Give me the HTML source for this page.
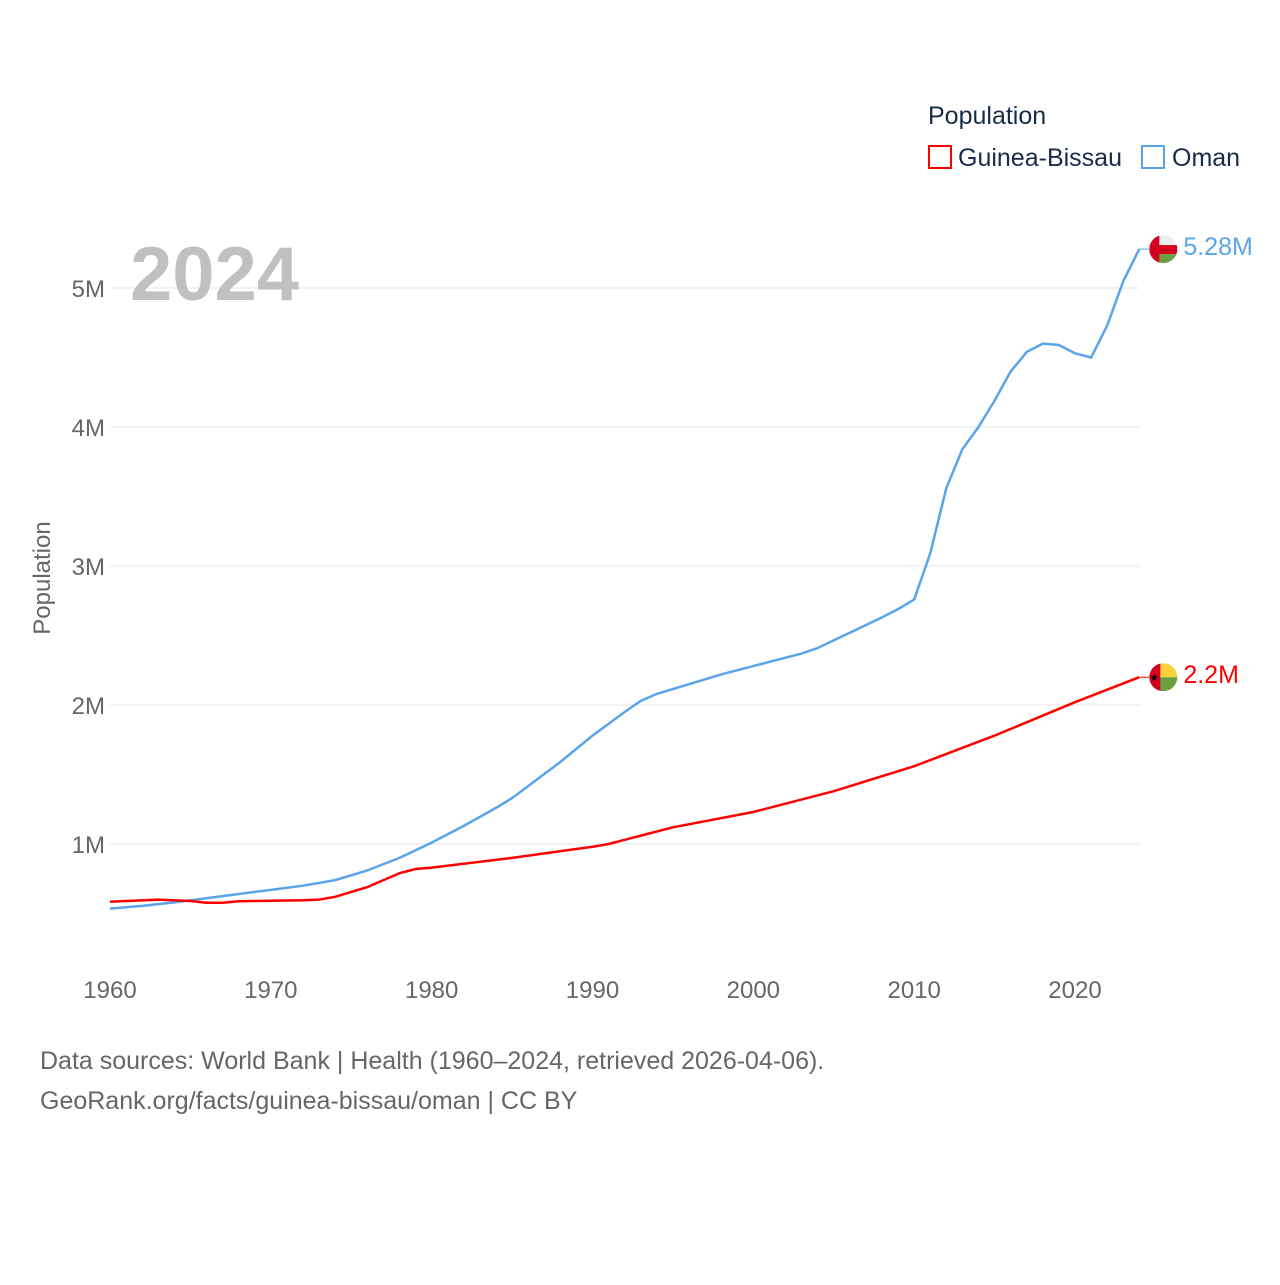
<!DOCTYPE html>
<html><head><meta charset="utf-8"><style>
body{margin:0;background:#fff;font-family:"Liberation Sans",sans-serif;}
svg text{font-family:"Liberation Sans",sans-serif;}
</style></head><body>
<svg id="chart" width="1280" height="1280" viewBox="0 0 1280 1280" xmlns="http://www.w3.org/2000/svg">
<rect width="1280" height="1280" fill="#fff"/>
<g id="grid"></g>
<text x="130" y="300" font-size="76" font-weight="bold" fill="#c0c0c0">2024</text>
<text transform="translate(50,578) rotate(-90)" text-anchor="middle" font-size="24" fill="#666">Population</text>
<g id="series"></g>
<g>
<text x="928" y="124" font-size="25" fill="#1a2b4a">Population</text>
<rect x="929" y="146" width="22" height="22" fill="none" stroke="#f00" stroke-width="2"/>
<text x="958" y="166" font-size="25" fill="#1a2b4a">Guinea-Bissau</text>
<rect x="1142" y="146" width="22" height="22" fill="none" stroke="#5aa5ea" stroke-width="2"/>
<text x="1172" y="166" font-size="25" fill="#1a2b4a">Oman</text>
</g>
<text x="40" y="1069" font-size="25" fill="#666">Data sources: World Bank | Health (1960–2024, retrieved 2026-04-06).</text>
<text x="40" y="1109" font-size="25" fill="#666">GeoRank.org/facts/guinea-bissau/oman | CC BY</text>
</svg>
<script>
const omanYears=[1960,1962,1964,1966,1968,1970,1972,1974,1976,1978,1980,1982,1984,1985,1988,1990,1992,1993,1994,1996,1998,2000,2003,2004,2006,2008,2009,2010,2011,2012,2013,2014,2015,2016,2017,2018,2019,2020,2021,2022,2023,2024];
const omanValues=[0.535,0.555,0.58,0.61,0.64,0.67,0.70,0.74,0.81,0.90,1.01,1.13,1.26,1.33,1.59,1.78,1.95,2.03,2.08,2.15,2.22,2.28,2.37,2.41,2.52,2.63,2.69,2.76,3.09,3.56,3.84,4.00,4.19,4.40,4.54,4.60,4.59,4.53,4.50,4.73,5.05,5.28];
const gbYears=[1960,1963,1965,1966,1967,1968,1970,1972,1973,1974,1976,1978,1979,1980,1985,1990,1991,1994,1995,2000,2005,2010,2015,2020,2024];
const gbValues=[0.585,0.60,0.59,0.578,0.578,0.588,0.592,0.595,0.60,0.62,0.69,0.79,0.82,0.83,0.90,0.98,1.00,1.09,1.12,1.23,1.38,1.56,1.78,2.02,2.20];
const yTicks=[1,2,3,4,5];
const xTicks=[1960,1970,1980,1990,2000,2010,2020];
const NS='http://www.w3.org/2000/svg';
const X=y=>110+(y-1960)*(965/60);
const Y=v=>983-v*139;
function mk(t,a,p){const e=document.createElementNS(NS,t);for(const k in a)e.setAttribute(k,a[k]);p.appendChild(e);return e;}
const grid=document.getElementById('grid');
yTicks.forEach(v=>{
 const l=mk('line',{x1:110,x2:1139,y1:Y(v),y2:Y(v),stroke:'#e6e6e6','stroke-width':1},grid);
 
 
 const t=mk('text',{x:105,y:Y(v)+9,'text-anchor':'end','font-size':24,fill:'#666'},grid);
 t.textContent=v+'M';
 
 
});
xTicks.forEach(y=>{
 const t=mk('text',{x:X(y),y:998,'text-anchor':'middle','font-size':24,fill:'#666'},grid);
 t.textContent=y;
 
 
});
const s=document.getElementById('series');
function flag(cx,cy,name){
 const defs=mk('defs',{},s);
 const cp=mk('clipPath',{id:'clip-'+name},defs);
 mk('circle',{cx:cx,cy:cy,r:14},cp);
 const g=mk('g',{'clip-path':'url(#clip-'+name+')'},s);
 
 
 if(name==='oman'){
  mk('rect',{x:cx-14,y:cy-14,width:28,height:10,fill:'#eee'},g);
  mk('rect',{x:cx-14,y:cy-4,width:28,height:9,fill:'#d40020'},g);
  mk('rect',{x:cx-14,y:cy+5,width:28,height:10,fill:'#6a9f40'},g);
  mk('rect',{x:cx-14,y:cy-14,width:10,height:28,fill:'#d40020'},g);
 } else {
  mk('rect',{x:cx-14,y:cy-14,width:28,height:14,fill:'#fcd03a'},g);
  mk('rect',{x:cx-14,y:cy,width:28,height:14,fill:'#6a9f40'},g);
  mk('rect',{x:cx-14,y:cy-14,width:11,height:28,fill:'#d40020'},g);
  const st=mk('text',{x:cx-9,y:cy+4,'font-size':10,'text-anchor':'middle',fill:'#000'},g);
  st.textContent='★';
 }
}
function line(years,vals,color,name,label){
 const d=years.map((y,i)=>(i?'L':'M')+X(y).toFixed(1)+','+Y(vals[i]).toFixed(1)).join('');
 const p=mk('path',{d:d,fill:'none',stroke:color,'stroke-width':2.5},s);
 
 
 const ly=Y(vals[vals.length-1]);const lx=X(years[years.length-1]);
 mk('line',{x1:lx,x2:lx+10,y1:ly,y2:ly,stroke:color,'stroke-width':1},s);
 flag(lx+24,ly,name);
 const t=mk('text',{x:lx+44,y:ly+6,'font-size':25,fill:color},s);
 t.textContent=label;
 
 
}
line(omanYears,omanValues,'#5aa5ea','oman','5.28M');
line(gbYears,gbValues,'#f00','guinea-bissau','2.2M');
</script>
</body></html>
